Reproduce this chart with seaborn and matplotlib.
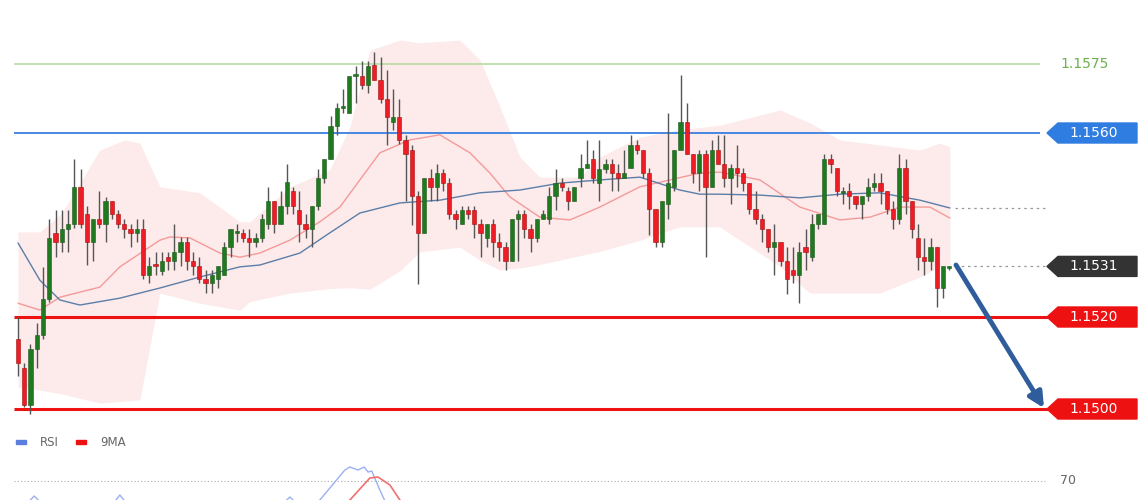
import matplotlib
matplotlib.use("Agg")
import matplotlib.pyplot as plt
from matplotlib.patches import Polygon, FancyArrowPatch
import numpy as np
import seaborn as sns

# prices are stored as pips above BASE (1 pip = 0.0001)
BASE = 1.1500

opens = [15.2, 8.9, 0.9, 13.0, 16.0, 24.0, 38.2, 36.3, 39.2, 40.2, 48.3, 42.3, 36.4, 41.2, 40.2, 45.3, 42.3, 40.2, 39.2, 38.2,
         39.2, 29.1, 31.1, 30.0, 33.1, 32.2, 34.2, 36.3, 32.2, 31.1, 28.2, 27.3, 28.2, 29.1, 35.3, 38.2, 38.2, 37.1, 36.3, 37.1,
         40.2, 45.3, 40.2, 44.2, 47.3, 43.2, 40.2, 39.2, 44.2, 50.3, 54.4, 61.5, 65.5, 64.4, 72.5, 72.5, 70.5, 74.7, 71.6, 67.5,
         62.4, 63.5, 58.4, 56.4, 46.3, 38.2, 50.3, 48.3, 51.3, 49.2, 42.3, 40.2, 43.2, 43.2, 40.2, 37.1, 40.2, 36.3, 35.3, 32.2,
         41.2, 42.3, 39.2, 37.1, 41.2, 41.2, 46.3, 49.2, 47.3, 45.2, 50.3, 52.3, 54.4, 49.2, 52.2, 53.3, 51.3, 50.3, 52.3, 57.3,
         56.4, 51.3, 43.4, 36.3, 44.5, 48.3, 56.4, 62.4, 55.5, 51.3, 55.5, 48.3, 56.4, 53.3, 50.3, 52.3, 51.3, 49.2, 43.4, 41.2,
         39.2, 35.3, 36.3, 32.2, 30.2, 29.1, 35.3, 33.1, 40.2, 40.2, 54.4, 52.3, 47.0, 47.3, 46.3, 44.5, 46.3, 48.3, 49.2, 47.3,
         43.4, 41.2, 52.3, 45.2, 37.1, 33.1, 32.2, 35.3, 26.2, 30.6]
closes = [10.0, 0.9, 13.0, 16.0, 24.0, 37.1, 36.3, 39.2, 40.2, 48.3, 40.2, 36.4, 41.2, 40.2, 45.3, 42.3, 40.2, 39.2, 38.2, 39.2,
          29.1, 31.1, 31.0, 32.2, 32.2, 34.2, 36.3, 32.2, 31.1, 28.2, 27.3, 29.1, 31.1, 35.3, 39.2, 38.3, 37.1, 36.3, 37.1, 41.2,
          45.3, 40.2, 44.2, 49.4, 44.2, 40.2, 39.2, 44.2, 50.3, 54.4, 61.5, 65.5, 65.6, 72.5, 72.6, 70.5, 74.5, 71.6, 67.5, 63.5,
          63.5, 58.4, 55.5, 46.3, 38.2, 50.3, 48.3, 51.3, 49.2, 42.3, 41.2, 43.2, 42.3, 40.2, 38.2, 40.2, 36.3, 35.3, 32.2, 41.2,
          42.3, 39.2, 37.1, 41.2, 42.3, 46.3, 49.2, 48.3, 45.2, 48.3, 52.3, 53.3, 50.3, 52.2, 53.3, 51.3, 50.3, 51.3, 57.3, 56.4,
          51.3, 43.4, 36.3, 45.2, 49.2, 56.4, 62.4, 55.5, 51.3, 55.5, 48.3, 56.4, 53.3, 50.3, 52.3, 51.3, 49.2, 43.4, 41.2, 39.2,
          35.3, 36.3, 32.2, 28.2, 29.1, 34.2, 34.2, 40.2, 42.3, 54.4, 53.3, 47.3, 47.3, 46.3, 44.5, 46.3, 48.3, 49.2, 47.3, 43.4,
          41.2, 52.3, 45.2, 39.2, 33.1, 32.2, 35.3, 26.2, 31.1, 31.0]
highs = [19.9, 10.0, 14.1, 18.8, 30.9, 41.2, 43.2, 43.2, 43.2, 54.4, 52.2, 44.1, 41.2, 47.3, 46.1, 45.3, 43.2, 41.2, 40.2, 41.2,
         41.2, 33.1, 34.2, 34.2, 34.2, 40.2, 37.3, 37.3, 34.2, 33.1, 30.2, 30.2, 31.1, 36.3, 39.2, 40.2, 39.2, 39.2, 38.2, 42.3,
         48.3, 45.3, 47.3, 53.3, 48.3, 47.3, 42.3, 44.2, 52.2, 54.4, 63.6, 66.5, 69.5, 72.5, 74.5, 75.6, 75.6, 77.7, 76.6, 73.6,
         69.5, 67.5, 59.6, 57.3, 47.3, 50.3, 52.2, 53.3, 52.2, 50.3, 43.2, 44.2, 44.2, 44.2, 41.2, 40.2, 41.2, 38.2, 36.3, 41.2,
         43.2, 43.2, 40.2, 41.2, 43.2, 48.3, 52.2, 50.3, 48.3, 48.3, 55.4, 58.4, 56.2, 58.4, 54.4, 54.4, 53.3, 56.4, 59.6, 58.4,
         56.4, 52.3, 43.4, 45.2, 64.4, 56.4, 72.6, 66.5, 55.5, 56.2, 56.2, 58.4, 59.6, 59.6, 53.3, 57.3, 52.3, 49.2, 47.3, 42.3,
         39.2, 40.2, 36.3, 35.3, 35.3, 36.3, 39.2, 42.3, 42.3, 55.5, 55.5, 52.3, 48.3, 49.2, 46.3, 46.3, 50.3, 51.3, 51.3, 47.3,
         45.2, 55.5, 54.4, 45.2, 40.2, 37.1, 37.1, 35.3, 31.1, 31.1]
lows = [7.1, 0.5, -1.0, 8.9, 15.2, 23.2, 33.1, 34.2, 34.2, 39.3, 39.3, 31.3, 32.2, 39.3, 36.3, 41.2, 39.3, 37.1, 35.3, 36.3,
        28.2, 27.3, 29.1, 29.1, 30.2, 30.2, 31.1, 30.2, 29.1, 27.3, 25.3, 25.3, 26.2, 29.1, 33.1, 36.3, 36.3, 33.1, 35.3, 36.3,
        39.2, 38.2, 40.2, 42.3, 42.3, 36.3, 37.1, 35.3, 43.2, 49.2, 54.4, 59.6, 64.4, 64.4, 66.5, 69.5, 68.6, 71.6, 66.5, 57.3,
        60.6, 57.7, 45.2, 40.1, 27.1, 38.2, 45.2, 45.2, 47.3, 41.2, 39.2, 40.2, 41.2, 37.1, 33.1, 35.3, 33.1, 32.2, 30.2, 32.2,
        32.2, 37.1, 34.2, 36.3, 41.2, 40.2, 43.2, 47.3, 43.2, 45.2, 48.3, 52.3, 49.2, 45.2, 51.3, 47.3, 47.3, 50.3, 52.3, 55.5,
        50.3, 37.9, 35.3, 35.3, 41.2, 47.3, 56.4, 55.5, 49.2, 47.3, 33.1, 48.3, 53.3, 48.3, 44.5, 48.3, 47.3, 42.3, 40.2, 36.3,
        34.2, 29.1, 31.1, 25.1, 27.3, 23.0, 30.2, 32.2, 39.2, 40.2, 51.3, 46.3, 44.5, 43.4, 43.4, 41.2, 45.2, 47.3, 44.5, 42.3,
        39.2, 40.2, 42.3, 37.1, 30.2, 29.1, 30.2, 22.1, 24.2, 30.2]

upper_x = [0, 3.5, 7.0, 13.1, 17.1, 19.5, 22.7, 29.1, 35.5, 37.1, 43.5, 49.9, 53.1, 56.3, 61.1, 64.3, 70.7, 73.9, 77.1, 80.3,
           83.5, 89.9, 93.1, 99.5, 105.9, 112.3, 121.9, 126.7, 131.5, 137.9, 144.3, 147.5, 149.1]
upper_band = [38.5, 38.5, 42.6, 56.3, 58.5, 57.8, 48.3, 47.0, 40.7, 40.7, 48.3, 52.0, 61.3, 78.0, 80.2, 79.6, 80.2, 75.9, 65.7, 54.8,
              50.4, 50.4, 54.8, 59.1, 60.7, 61.7, 65.0, 62.2, 58.5, 57.4, 56.3, 57.8, 57.0]
lower_x = [0, 3.5, 9.9, 13.1, 19.5, 21.1, 22.7, 29.1, 35.5, 38.7, 45.1, 51.5, 57.9, 67.5, 70.7, 73.9, 77.1, 81.9, 86.7, 96.3,
           105.9, 112.3, 118.7, 125.1, 137.9, 141.1, 147.5, 149.1]
lower_band = [4.8, 4.1, 2.6, 1.3, 2.0, 15.0, 25.2, 23.0, 21.5, 25.2, 25.2, 26.5, 25.9, 38.3, 35.2, 32.4, 30.2, 30.9, 32.4, 35.2,
              39.6, 39.6, 36.7, 25.2, 25.2, 26.5, 30.9, 30.9]
ma_fast_x = [0, 3.5, 6.7, 13.1, 16.3, 22.7, 24.3, 27.5, 32.3, 35.5, 38.7, 43.5, 48.3, 51.5, 57.9, 62.7, 67.5, 72.3, 75.5, 78.7,
             83.5, 88.3, 93.1, 99.5, 104.3, 109.1, 112.3, 118.7, 125.1, 131.5, 136.3, 141.1, 145.9, 149.1]
ma_fast = [23.0, 21.5, 24.3, 26.5, 30.9, 36.7, 37.4, 37.2, 33.9, 33.0, 33.9, 36.7, 40.7, 43.9, 55.7, 58.5, 59.6, 55.7, 51.3, 46.1,
           41.7, 41.1, 43.9, 48.3, 49.8, 51.3, 51.5, 49.8, 43.9, 41.1, 41.7, 43.9, 43.9, 41.5]
ma_slow_x = [0, 3.5, 6.7, 9.9, 16.3, 22.7, 29.1, 35.5, 38.7, 45.1, 49.9, 54.7, 61.1, 67.5, 73.9, 80.3, 86.7, 93.1, 99.5, 105.9,
             109.1, 112.3, 118.7, 125.1, 131.5, 137.9, 144.3, 149.1]
ma_slow = [36.1, 28.0, 23.7, 22.6, 24.1, 26.3, 28.7, 30.9, 31.3, 33.9, 38.3, 42.6, 44.8, 45.4, 47.0, 47.6, 49.1, 49.8, 50.4, 47.6,
           46.7, 46.7, 46.5, 45.9, 46.7, 47.0, 45.4, 43.7]

rsi_x = [47.0, 48.3, 50.7, 52.3, 53.1, 54.4, 55.4, 56.0, 56.6, 57.9, 59.0]
rsi = [58.0, 60.5, 69.5, 75.5, 77.0, 75.5, 77.0, 74.5, 75.0, 65.5, 58.0]
rsi_bumps = [(1.5, 2.6, 3.7), (59.0, 62.5, 59.0), (15.3, 16.3, 17.3), (59.0, 63.0, 59.0), (42.5, 43.5, 44.5), (59.0, 62.0, 59.0)]
rsi_ma_x = [52.0, 53.1, 56.3, 57.6, 59.5, 61.1, 62.0]
rsi_ma = [57.0, 60.5, 71.5, 72.0, 68.0, 60.5, 57.0]

last_pips = 31.0

sns.set_style("white")
plt.rcParams["font.family"] = ["DejaVu Sans"]

W, H = 1140, 500
fig = plt.figure(figsize=(W / 100, H / 100), dpi=100)
ax = fig.add_axes([0, 0, 1, 1])
px = 6.25  # pixels per bar
x0 = -18 / px
ax.set_xlim(x0, x0 + W / px)
ppip = 4.6
ax.set_ylim(-(H - 409) / ppip, 409 / ppip)
ax.axis("off")


def fx(p):  # pixel x to bar units
    return x0 + p / px


# bollinger band and moving averages
ux = np.array(upper_x)
lower_on_upper = np.interp(ux, lower_x, lower_band)
ax.fill_between(ux, lower_on_upper, upper_band, color="#fde5e5", alpha=0.8, lw=0, zorder=1)
sns.lineplot(x=ma_fast_x, y=ma_fast, ax=ax, color="#f49a9a", lw=1, zorder=2)
sns.lineplot(x=ma_slow_x, y=ma_slow, ax=ax, color="#5b7ea8", lw=1, zorder=2)

# levels
ax.hlines(75, fx(14), fx(1040), color="#b5dca0", lw=1.2, zorder=2)
ax.hlines(60, fx(14), fx(1040), color="#3a7fe0", lw=1.3, zorder=2)
ax.hlines([20, 0], fx(14), fx(1050), color="#ee1111", lw=2.2, zorder=2)
ax.hlines(last_pips, fx(955), fx(1048), color="#999999", lw=0.9, ls=(0, (2, 3)), zorder=2)
ax.hlines(ma_slow[-1], fx(955), fx(1048), color="#999999", lw=0.9, ls=(0, (2, 3)), zorder=2)

# candles
idx = np.arange(len(opens))
o, c = np.array(opens), np.array(closes)
ax.vlines(idx, lows, highs, color="#555555", lw=1, zorder=3)
up = c >= o
body = np.where(np.abs(c - o) < 0.4, 0.4, c - o)
ax.bar(idx[up], body[up], bottom=o[up], width=0.7, color="#1f7a1f", edgecolor="#1f5a1f", lw=0.4, zorder=4)
ax.bar(idx[~up], body[~up], bottom=o[~up], width=0.7, color="#ee1c24", edgecolor="#a01010", lw=0.4, zorder=4)

# arrow
ax.add_patch(FancyArrowPatch((fx(956), last_pips + 0.3), (fx(1044), 0.2),
                             arrowstyle="-|>,head_length=9,head_width=4.5",
                             color="#2f5d9c", lw=3.5, mutation_scale=1.0, shrinkA=0, shrinkB=0, zorder=5))


# price labels
def tag(value, color):
    h = 10 / ppip
    pts = [(fx(1047), value), (fx(1058), value + h), (fx(1137), value + h), (fx(1137), value - h), (fx(1058), value - h)]
    ax.add_patch(Polygon(pts, closed=True, color=color, zorder=6))
    ax.text(fx(1094), value, f"{BASE + value / 10000:.4f}", color="white", fontsize=10, ha="center", va="center", zorder=7)


ax.text(fx(1060), 75, f"{BASE + 75 / 10000:.4f}", color="#6ab04c", fontsize=10, va="center")
tag(60, "#2f7de1")
tag(last_pips, "#333333")
tag(20, "#ee1111")
tag(0, "#ee1111")

# RSI panel (mostly cropped)
rax = fig.add_axes([0, 0, 1, 45 / H])
rax.set_xlim(ax.get_xlim())
rax.set_ylim(60.5, 83)
rax.axis("off")
rax.hlines(70, fx(14), fx(1045), color="#aaaaaa", lw=0.8, ls=(0, (1, 2)))
rax.text(fx(1060), 70, "70", color="#666666", fontsize=9, va="center")
sns.lineplot(x=rsi_x, y=rsi, ax=rax, color="#9bb0f0", lw=1)
for bx, by in zip(rsi_bumps[0::2], rsi_bumps[1::2]):
    rax.plot(bx, by, color="#9bb0f0", lw=1)
sns.lineplot(x=rsi_ma_x, y=rsi_ma, ax=rax, color="#f07070", lw=1.2)

# legend
fig.patches.append(plt.Rectangle((16 / W, 1 - 444 / H), 10 / W, 4 / H, color="#5b7fe0", transform=fig.transFigure))
fig.text(40 / W, 1 - 442 / H, "RSI", fontsize=8.5, color="#666666", va="center")
fig.patches.append(plt.Rectangle((76 / W, 1 - 444 / H), 10 / W, 4 / H, color="#ee1111", transform=fig.transFigure))
fig.text(100 / W, 1 - 442 / H, "9MA", fontsize=8.5, color="#666666", va="center")

fig.savefig("out.png", dpi=100)
